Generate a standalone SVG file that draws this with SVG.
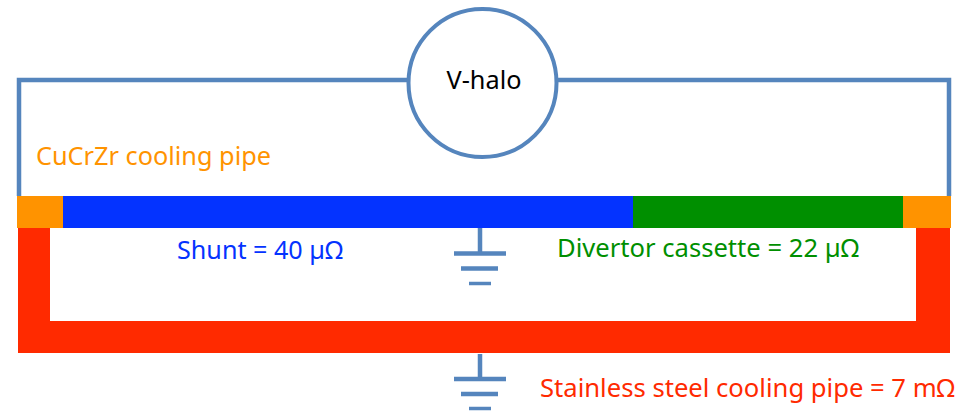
<svg xmlns="http://www.w3.org/2000/svg" width="967" height="412" viewBox="0 0 967 412">
<style>
text{font-family:"Noto Sans","DejaVu Sans",sans-serif;font-size:24.500px}
.w{fill:none;stroke:#5585bd;stroke-width:4.500}
.g{fill:none;stroke:#5585bd}
</style>
<rect width="967" height="412" fill="#fff"/>
<g id="connectors">
<path class="w" d="M408 80H19V196M557 80H949V196"/>
<path class="w" d="M480 228V253M480 354V379"/>
</g>
<g id="red-pipe">
<path d="M18 228H50V321H916V228H950V353H18Z" fill="#ff2a00"/>
</g>
<g id="shunt"><rect x="63" y="196" width="570" height="32" fill="#0433ff"/></g>
<g id="divertor"><rect x="633" y="196" width="270" height="32" fill="#008f00"/></g>
<g id="pipe-left"><rect x="17" y="196" width="46" height="32" fill="#ff9300"/></g>
<g id="pipe-right"><rect x="903" y="196" width="48" height="32" fill="#ff9300"/></g>
<g id="v-halo">
<circle cx="482.500" cy="83" r="74" fill="#fff" stroke="#5585bd" stroke-width="4"/>
<text x="484" y="89" text-anchor="middle" fill="#000" textLength="75" lengthAdjust="spacingAndGlyphs">V-halo</text>
</g>
<g id="ground-1" class="g">
<path stroke-width="4.500" d="M454 253.500H506M461 268.500H498"/><path stroke-width="3.500" d="M469 283.500H491"/>
</g>
<g id="ground-2" class="g">
<path stroke-width="4.500" d="M454 379H506M461 394H498"/><path stroke-width="3.500" d="M469 408.500H491"/>
</g>
<text id="label-cucrzr" x="36" y="165" fill="#ff9300" textLength="235" lengthAdjust="spacingAndGlyphs">CuCrZr cooling pipe</text>
<text id="label-shunt" x="177" y="259" fill="#0433ff" textLength="166" lengthAdjust="spacingAndGlyphs">Shunt = 40 µΩ</text>
<text id="label-divertor" x="557" y="257" fill="#008f00" textLength="302" lengthAdjust="spacingAndGlyphs">Divertor cassette = 22 µΩ</text>
<text id="label-steel" x="540" y="397" fill="#ff2a00" textLength="415" lengthAdjust="spacingAndGlyphs">Stainless steel cooling pipe = 7 mΩ</text>
</svg>
